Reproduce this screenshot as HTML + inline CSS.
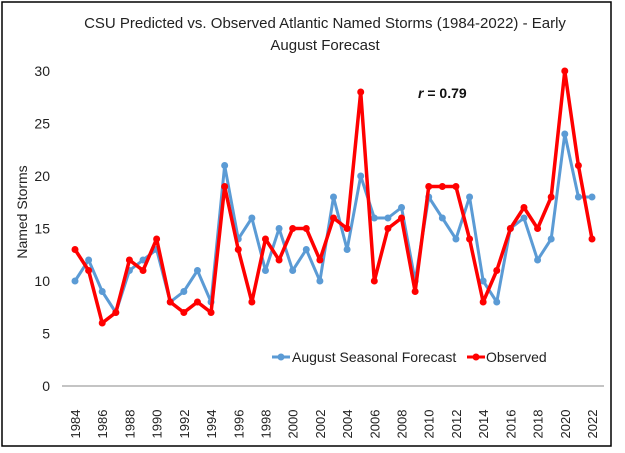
<!DOCTYPE html>
<html><head><meta charset="utf-8"><style>
html,body{margin:0;padding:0;background:#fff;}
svg{display:block;font-family:"Liberation Sans",sans-serif;}
</style></head><body>
<svg id="chart" width="625" height="453">
<rect x="2" y="2" width="609" height="444" fill="#fff" stroke="#000" stroke-width="1.5"/>
<text x="325" y="28" text-anchor="middle" font-size="15" fill="#222">CSU Predicted vs. Observed Atlantic Named Storms (1984-2022) - Early</text>
<text x="325" y="50" text-anchor="middle" font-size="15" fill="#222">August Forecast</text>
<text transform="translate(27,212) rotate(-90)" text-anchor="middle" font-size="14" fill="#222">Named Storms</text>
<text x="418" y="98" font-size="14" font-weight="bold" fill="#111"><tspan font-style="italic">r</tspan> = 0.79</text>
<g id="axes"></g>
<g id="series"></g>
<g>
<line x1="272" y1="357" x2="290" y2="357" stroke="#5b9bd5" stroke-width="3"/><circle cx="281" cy="357" r="3.5" fill="#5b9bd5"/>
<text x="292" y="362" font-size="14" fill="#222">August Seasonal Forecast</text>
<line x1="467" y1="357" x2="485" y2="357" stroke="#ff0000" stroke-width="3"/><circle cx="476" cy="357" r="3.5" fill="#ff0000"/>
<text x="486" y="362" font-size="14" fill="#222">Observed</text>
</g>
</svg>
<script>
const years=[];for(let y=1984;y<=2022;y++)years.push(y);
const forecast=[10,12,9,7,11,12,13,8,9,11,8,21,14,16,11,15,11,13,10,18,13,20,16,16,17,10,18,16,14,18,10,8,15,16,12,14,24,18,18];
const observed=[13,11,6,7,12,11,14,8,7,8,7,19,13,8,14,12,15,15,12,16,15,28,10,15,16,9,19,19,19,14,8,11,15,17,15,18,30,21,14];
const yTicks=[0,5,10,15,20,25,30];
const NS="http://www.w3.org/2000/svg";
const x0=75,x1=592,y0=386,y30=71;
const xs=i=>x0+(x1-x0)*i/(years.length-1);
const ys=v=>y0+(y30-y0)*v/30;
function mk(t,a,p){const e=document.createElementNS(NS,t);for(const k in a)e.setAttribute(k,a[k]);p.appendChild(e);return e;}
const ax=document.getElementById('axes');
const base=mk('line',{x1:62,x2:604,y1:y0,y2:y0,stroke:'#888','stroke-width':1},ax);


yTicks.forEach(v=>{const t=mk('text',{x:50,y:ys(v)+5,'text-anchor':'end','font-size':14,fill:'#222'},ax);t.textContent=v;

});
years.forEach((y,i)=>{if(i%2)return;const t=mk('text',{transform:`translate(${xs(i)+5},${y0+38}) rotate(-90)`,'text-anchor':'middle','font-size':13,fill:'#222'},ax);t.textContent=y;

});
const sg=document.getElementById('series');
function draw(vals,col,name,w){const g=mk('g',{},sg);


mk('polyline',{points:vals.map((v,i)=>xs(i)+','+ys(v)).join(' '),fill:'none',stroke:col,'stroke-width':w,'stroke-linejoin':'round'},g);
vals.forEach((v,i)=>{const c=mk('circle',{cx:xs(i),cy:ys(v),r:3.5,fill:col},g);

});}
draw(forecast,'#5b9bd5','forecast-series',3);
draw(observed,'#ff0000','observed-series',3.5);
</script>
</body></html>
